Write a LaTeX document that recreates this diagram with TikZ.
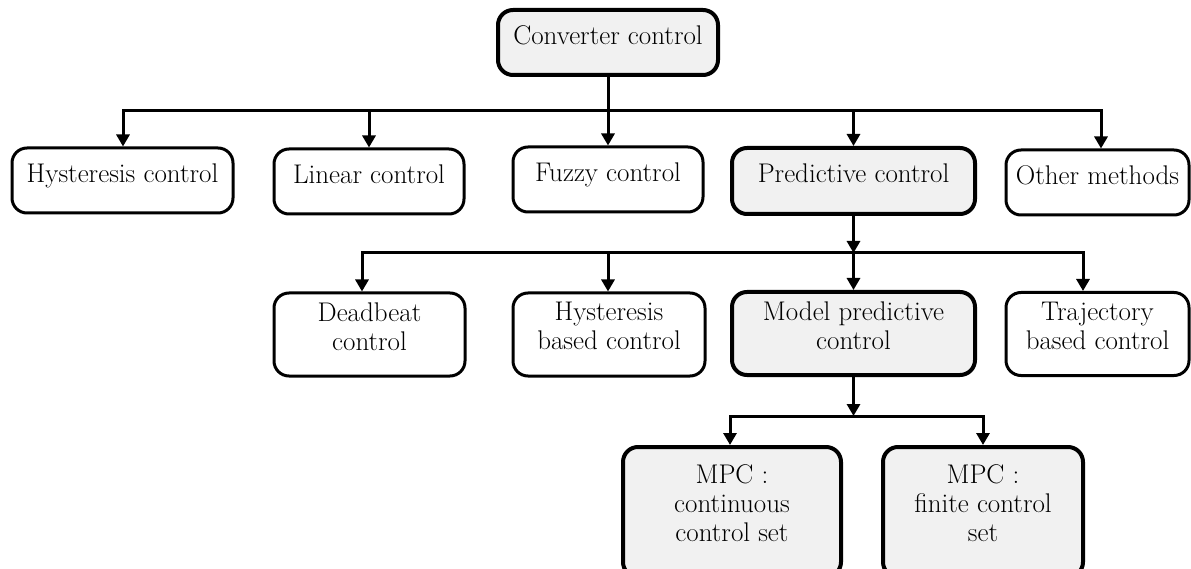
\documentclass[tikz,border=0pt]{standalone}
\usepackage{fontspec}
\setmainfont{Latin Modern Roman}
\usetikzlibrary{arrows.meta}
\definecolor{boxgray}{HTML}{F1F1F1}
\newcommand{\diagfont}{\fontsize{27}{29}\selectfont}
\begin{document}
\begin{tikzpicture}[x=1pt,y=-1pt,
  box/.style={draw, rounded corners=15pt, line width=3pt, align=center, inner sep=0pt, font=\diagfont},
  hl/.style={box, fill=boxgray, line width=4pt},
  oneline/.style={text depth=15.7pt, minimum height=65pt},
  twoline/.style={text depth=16.7pt, minimum height=83pt},
  threeline/.style={text depth=17pt, minimum height=130pt},
  conn/.style={line width=3pt},
  bus/.style={conn, line cap=rect},
  arr/.style={conn, -{Triangle[length=12pt,width=13pt]}}]
\useasboundingbox (0,0) rectangle (1191,569);

% nodes
\node[hl, oneline, minimum width=220pt] (conv) at (608,42.5) {Converter control};

\node[box, oneline, minimum width=221pt] (hyst) at (122.5,180.5) {Hysteresis control};
\node[box, oneline, minimum width=190pt] (lin) at (369,181.5) {Linear control};
\node[box, oneline, minimum width=190pt] (fuzzy) at (608,179.5) {Fuzzy control};
\node[hl, oneline, minimum width=243pt, minimum height=66pt] (pred) at (853.5,181) {Predictive control};
\node[box, oneline, minimum width=183pt] (other) at (1097.5,182.5) {Other methods};

\node[box, twoline, minimum width=191pt] (dead) at (369.5,334.5) {Deadbeat\\control};
\node[box, twoline, minimum width=192pt] (hbc) at (609,334.5) {Hysteresis\\based control};
\node[hl, twoline, minimum width=243pt] (mpcc) at (853.5,333.5) {Model predictive\\control};
\node[box, twoline, minimum width=183pt] (traj) at (1097.5,334) {Trajectory\\based control};

\node[hl, threeline, minimum width=218pt] (mpc1) at (732,512) {MPC :\\continuous\\control set};
\node[hl, threeline, minimum width=200pt] (mpc2) at (983,512) {MPC :\\finite control\\set};

% bus 1
\coordinate (b1) at (608,111);
\coordinate (b1l) at (123,111);
\coordinate (b1r) at (1101,111);
\draw[conn] (conv.south) -- (b1);
\draw[bus] (b1l) -- (b1r);
\draw[arr] (b1l) -- (b1l |- hyst.north);
\draw[arr] (b1 -| lin.north) -- (lin.north);
\draw[arr] (b1) -- (b1 |- fuzzy.north);
\draw[arr] (b1 -| pred.north) -- (pred.north);
\draw[arr] (b1r) -- (b1r |- other.north);

% bus 2
\coordinate (b2) at (854,253);
\coordinate (b2l) at (362,253);
\coordinate (b2m) at (608,253);
\coordinate (b2r) at (1083,253);
\draw[arr] (pred.south) -- (pred.south |- b2);
\draw[bus] (b2l) -- (b2r);
\draw[arr] (b2l) -- (b2l |- dead.north);
\draw[arr] (b2m) -- (b2m |- hbc.north);
\draw[arr] (b2 -| mpcc.north) -- (mpcc.north);
\draw[arr] (b2r) -- (b2r |- traj.north);

% bus 3
\coordinate (b3) at (854,416);
\coordinate (b3l) at (730,416);
\coordinate (b3r) at (983,416);
\draw[arr] (mpcc.south) -- (mpcc.south |- b3);
\draw[bus] (b3l) -- (b3r);
\draw[arr] (b3l) -- (b3l |- mpc1.north);
\draw[arr] (b3r) -- (b3r |- mpc2.north);
\end{tikzpicture}
\end{document}
